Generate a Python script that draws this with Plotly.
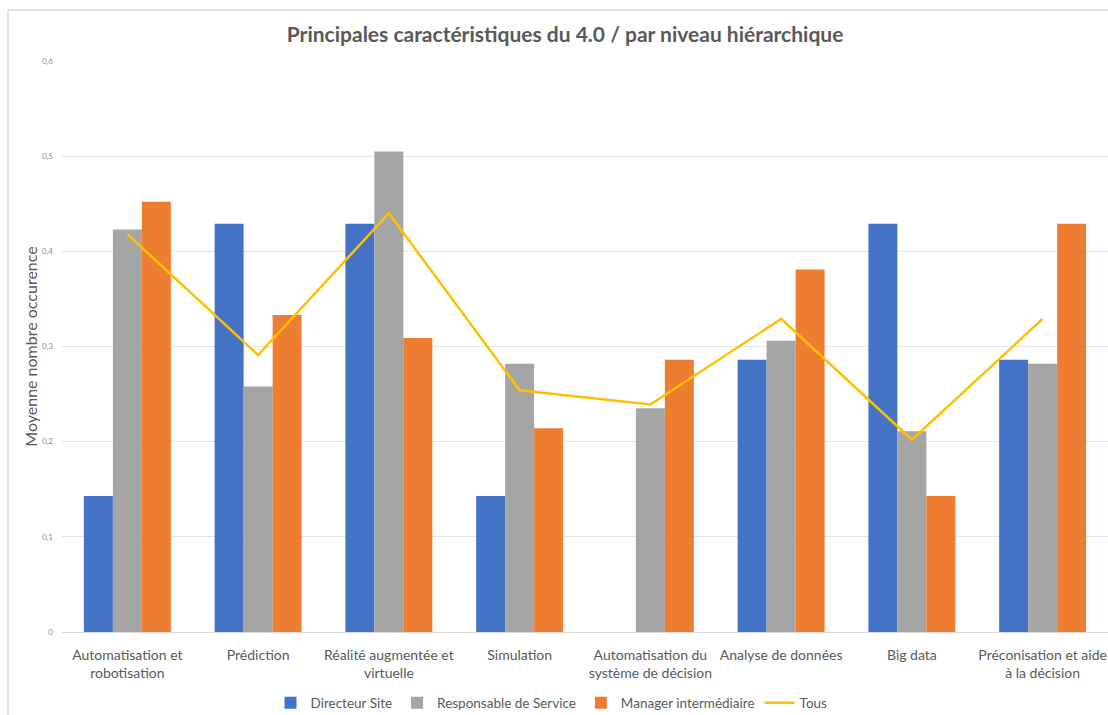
import plotly.graph_objects as go

# Categories and series
categories = [
    "Automatisation et<br>robotisation",
    "Prédiction",
    "Réalité augmentée et<br>virtuelle",
    "Simulation",
    "Automatisation du<br>système de décision",
    "Analyse de données",
    "Big data",
    "Préconisation et aide<br>à la décision",
]
directeur_site = [0.143, 0.429, 0.429, 0.143, 0.0, 0.286, 0.429, 0.286]
responsable_service = [0.423, 0.258, 0.505, 0.282, 0.235, 0.306, 0.211, 0.282]
manager_intermediaire = [0.452, 0.333, 0.309, 0.214, 0.286, 0.381, 0.143, 0.429]
tous = [0.418, 0.291, 0.440, 0.254, 0.239, 0.329, 0.202, 0.329]

y_ticks = [0, 0.1, 0.2, 0.3, 0.4, 0.5, 0.6]
y_tick_labels = ["0", "0,1", "0,2", "0,3", "0,4", "0,5", "0,6"]

FONT = "Lato"
TEXT = "#595959"

fig = go.Figure()
fig.add_trace(go.Bar(name="Directeur Site", x=categories, y=directeur_site,
                     marker=dict(color="#4472C4", line=dict(width=0))))
fig.add_trace(go.Bar(name="Responsable de Service", x=categories, y=responsable_service,
                     marker=dict(color="#A5A5A5", line=dict(width=0))))
fig.add_trace(go.Bar(name="Manager intermédiaire", x=categories, y=manager_intermediaire,
                     marker=dict(color="#ED7D31", line=dict(width=0))))
fig.add_trace(go.Scatter(name="Tous", x=categories, y=tous, mode="lines",
                         line=dict(color="#FFC000", width=2.5)))

# outer chart frame (left and top edges)
frame_x = (8 - 62) / 1046
frame_y = (715 - 83 - 10) / (632 - 61)
fig.add_shape(type="line", xref="paper", yref="paper",
              x0=frame_x, x1=frame_x, y0=-2, y1=frame_y,
              line=dict(color="#D9D9D9", width=1.5))
fig.add_shape(type="line", xref="paper", yref="paper",
              x0=frame_x, x1=1.2, y0=frame_y, y1=frame_y,
              line=dict(color="#D9D9D9", width=1.5))

fig.update_layout(
    width=1108, height=715,
    margin=dict(l=62, r=0, t=61, b=83, autoexpand=False),
    paper_bgcolor="white", plot_bgcolor="white",
    barmode="group", bargap=0.335, bargroupgap=0,
    font=dict(family=FONT, color=TEXT),
    title=dict(text="Principales caractéristiques du 4.0 / par niveau hiérarchique",
               x=0.51, xanchor="center", y=0.951, yanchor="middle",
               font=dict(family=FONT, size=21, color=TEXT, weight="bold")),
    xaxis=dict(showgrid=False, showline=True, linecolor="#D9D9D9", linewidth=1,
               ticks="", tickangle=0, automargin=False,
               tickfont=dict(size=14, color=TEXT), ticklabelstandoff=10),
    yaxis=dict(range=[0, 0.6], tickvals=y_ticks, ticktext=y_tick_labels,
               showgrid=True, gridcolor="#E3E3E3", gridwidth=1, automargin=False,
               zeroline=False, showline=False, ticks="",
               tickfont=dict(size=8, color="#8C8C8C"), ticklabelstandoff=8,
               title=dict(text="Moyenne nombre occurence", standoff=0,
                          font=dict(size=16, color=TEXT))),
    legend=dict(orientation="h", x=0.468, xanchor="center",
                yref="container", y=0.0168, yanchor="middle",
                font=dict(size=13.5, color=TEXT), itemwidth=30,
                tracegroupgap=0, traceorder="normal"),
)

fig.write_html("out.html")
